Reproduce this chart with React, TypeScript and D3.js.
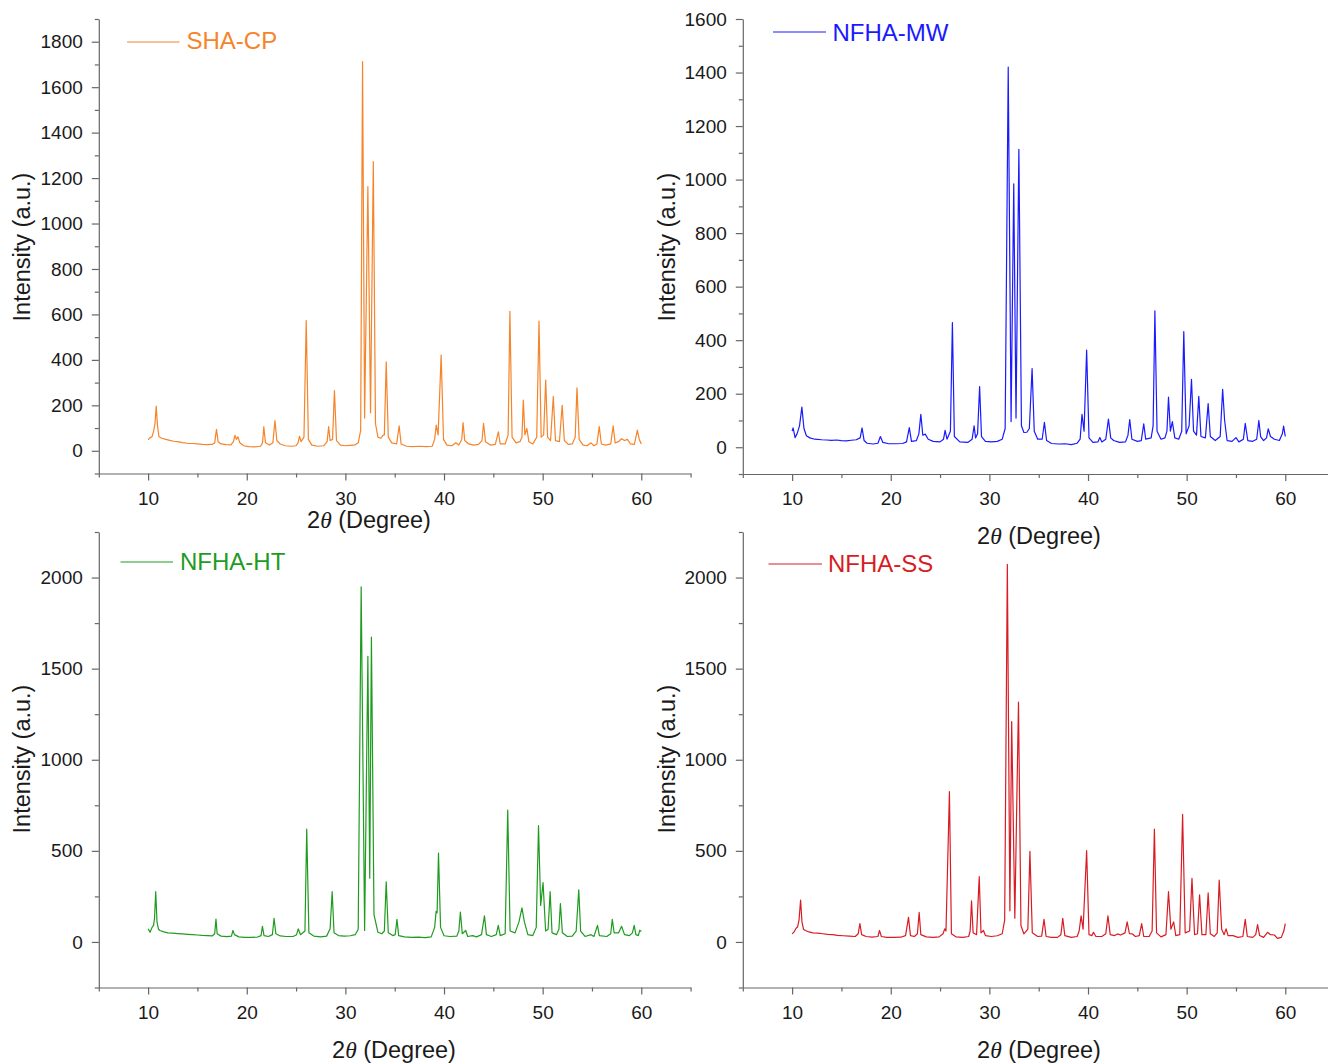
import React, { useEffect, useRef } from "react";
import * as d3 from "d3";

type Pt = [number, number];

// XRD traces: [2theta, intensity]
const shaCP: Pt[] = [
  [10.0, 48], [10.2, 58], [10.4, 62], [10.55, 85], [10.7, 120], [10.82, 197], [10.95, 110], [11.1, 62],
  [11.4, 55], [11.8, 50], [12.2, 46], [12.6, 42], [13.0, 40], [13.5, 36], [14.0, 33], [14.5, 32],
  [15.0, 30], [15.5, 28], [16.0, 27], [16.5, 28], [16.75, 35], [16.93, 94], [17.1, 40], [17.4, 30],
  [17.9, 27], [18.4, 26], [18.65, 40], [18.8, 68], [18.95, 50], [19.1, 62], [19.3, 35], [19.7, 22],
  [20.2, 18], [20.8, 17], [21.4, 20], [21.6, 35], [21.73, 106], [21.9, 35], [22.3, 25], [22.65, 35],
  [22.86, 133], [23.05, 45], [23.4, 30], [23.9, 22], [24.5, 20], [25.0, 22], [25.2, 35], [25.35, 64],
  [25.5, 40], [25.8, 60], [26.03, 573], [26.25, 50], [26.6, 25], [27.2, 20], [27.8, 22], [28.15, 40],
  [28.3, 106], [28.45, 45], [28.7, 50], [28.89, 265], [29.1, 45], [29.5, 25], [30.0, 22], [30.5, 24],
  [31.0, 26], [31.3, 35], [31.55, 90], [31.74, 1712], [31.95, 144], [32.28, 1162], [32.55, 167],
  [32.83, 1273], [33.05, 120], [33.3, 60], [33.6, 55], [33.8, 68], [33.95, 70], [34.14, 391],
  [34.35, 60], [34.7, 35], [35.2, 30], [35.45, 110], [35.65, 30], [36.2, 20], [36.8, 18], [37.5, 20],
  [38.2, 18], [38.8, 20], [39.05, 50], [39.21, 113], [39.4, 70], [39.71, 421], [39.95, 50], [40.3, 25],
  [40.8, 22], [41.2, 35], [41.5, 25], [41.8, 50], [41.93, 124], [42.1, 45], [42.5, 30], [43.0, 25],
  [43.5, 28], [43.85, 45], [44.01, 121], [44.2, 40], [44.7, 25], [45.2, 28], [45.51, 83], [45.7, 30],
  [46.2, 30], [46.5, 70], [46.68, 614], [46.9, 60], [47.3, 35], [47.7, 40], [47.9, 60], [48.04, 223],
  [48.2, 70], [48.4, 98], [48.6, 40], [49.0, 30], [49.4, 60], [49.63, 571], [49.85, 60], [50.1, 70],
  [50.31, 311], [50.5, 60], [50.8, 45], [51.08, 239], [51.3, 45], [51.7, 40], [51.98, 200], [52.2, 45],
  [52.6, 28], [53.0, 30], [53.3, 60], [53.48, 277], [53.7, 50], [54.1, 25], [54.5, 22], [54.9, 35],
  [55.2, 22], [55.5, 30], [55.74, 106], [55.95, 30], [56.4, 25], [56.9, 30], [57.15, 110], [57.35, 35],
  [57.7, 40], [58.0, 53], [58.3, 45], [58.6, 50], [58.9, 30], [59.3, 28], [59.6, 91], [59.8, 50],
  [60.0, 30],
];

const nfhaMW: Pt[] = [
  [10.0, 60], [10.1, 72], [10.3, 36], [10.5, 50], [10.75, 80], [10.99, 150], [11.2, 70], [11.45, 43],
  [11.8, 35], [12.3, 30], [13.0, 28], [13.5, 27], [14.0, 26], [14.5, 27], [15.0, 25], [15.5, 24],
  [16.0, 26], [16.5, 28], [16.9, 35], [17.09, 72], [17.3, 25], [17.6, 15], [18.2, 12], [18.7, 15],
  [18.95, 40], [19.2, 18], [19.8, 13], [20.5, 13], [21.2, 14], [21.6, 20], [21.88, 73], [22.1, 22],
  [22.6, 25], [22.85, 50], [23.05, 123], [23.25, 45], [23.5, 49], [23.8, 30], [24.3, 22], [25.0, 20],
  [25.35, 30], [25.51, 63], [25.7, 30], [26.05, 60], [26.25, 466], [26.45, 40], [27.0, 20], [27.8, 18],
  [28.25, 30], [28.45, 80], [28.6, 35], [28.8, 50], [29.01, 227], [29.2, 40], [29.6, 22], [30.2, 20],
  [30.8, 22], [31.3, 30], [31.6, 70], [31.91, 1420], [32.2, 96], [32.47, 984], [32.7, 109],
  [32.99, 1113], [33.25, 80], [33.5, 55], [33.8, 56], [34.05, 70], [34.33, 294], [34.55, 60],
  [34.9, 30], [35.35, 30], [35.58, 93], [35.8, 25], [36.3, 14], [37.0, 12], [37.7, 13], [38.3, 10],
  [38.9, 15], [39.2, 30], [39.39, 123], [39.6, 60], [39.86, 363], [40.1, 35], [40.5, 18], [41.0, 20],
  [41.2, 36], [41.4, 20], [41.8, 30], [42.07, 105], [42.3, 35], [42.6, 25], [43.2, 18], [43.8, 20],
  [44.05, 45], [44.23, 103], [44.45, 30], [45.0, 22], [45.4, 25], [45.65, 87], [45.85, 30], [46.4, 35],
  [46.6, 80], [46.78, 510], [47.0, 60], [47.4, 30], [47.8, 35], [48.0, 60], [48.16, 187], [48.35, 60],
  [48.55, 96], [48.8, 35], [49.2, 30], [49.5, 60], [49.71, 432], [49.95, 50], [50.25, 80], [50.49, 254],
  [50.7, 60], [51.0, 45], [51.23, 190], [51.45, 40], [51.9, 35], [52.18, 163], [52.4, 40], [52.9, 25],
  [53.4, 40], [53.65, 216], [53.85, 100], [54.1, 25], [54.6, 22], [55.0, 36], [55.3, 20], [55.75, 30],
  [55.94, 89], [56.2, 25], [56.7, 22], [57.1, 30], [57.32, 100], [57.5, 40], [57.8, 25], [58.1, 35],
  [58.27, 69], [58.5, 40], [58.9, 30], [59.4, 25], [59.7, 50], [59.83, 79], [60.0, 40],
];

const nfhaHT: Pt[] = [
  [10.0, 72], [10.2, 53], [10.4, 80], [10.55, 91], [10.65, 130], [10.77, 276], [10.9, 110], [11.05, 70],
  [11.2, 63], [11.6, 55], [12.0, 50], [12.5, 48], [13.0, 46], [13.5, 44], [14.0, 42], [14.5, 40],
  [15.0, 38], [15.5, 36], [16.0, 35], [16.5, 33], [16.75, 45], [16.88, 126], [17.0, 45], [17.4, 32],
  [18.0, 29], [18.45, 32], [18.6, 63], [18.75, 40], [19.2, 28], [19.8, 25], [20.5, 25], [21.1, 27],
  [21.45, 35], [21.59, 86], [21.75, 35], [22.2, 30], [22.6, 40], [22.77, 130], [22.95, 45], [23.4, 33],
  [24.0, 30], [24.7, 30], [25.05, 40], [25.22, 72], [25.45, 40], [25.9, 60], [26.08, 619], [26.3, 50],
  [26.8, 32], [27.5, 28], [28.1, 32], [28.45, 72], [28.66, 276], [28.85, 50], [29.3, 35], [29.9, 32],
  [30.5, 34], [31.0, 40], [31.3, 70], [31.6, 1949], [31.95, 63], [32.28, 1568], [32.47, 350],
  [32.64, 1673], [32.9, 150], [33.3, 53], [33.7, 45], [33.95, 60], [34.14, 330], [34.35, 50],
  [34.8, 35], [35.05, 40], [35.23, 124], [35.4, 35], [36.0, 28], [36.7, 25], [37.4, 26], [38.1, 24],
  [38.7, 28], [39.05, 80], [39.2, 168], [39.3, 160], [39.44, 488], [39.65, 80], [40.0, 34], [40.6, 30],
  [41.3, 32], [41.5, 60], [41.66, 164], [41.85, 45], [42.2, 63], [42.4, 30], [42.9, 35], [43.3, 28],
  [43.8, 40], [44.1, 143], [44.3, 40], [44.8, 30], [45.3, 40], [45.5, 91], [45.7, 35], [46.2, 45],
  [46.46, 724], [46.7, 60], [47.2, 50], [47.6, 110], [47.9, 187], [48.15, 110], [48.5, 40], [49.0, 35],
  [49.35, 80], [49.58, 638], [49.8, 200], [50.04, 326], [50.3, 60], [50.55, 70], [50.76, 276],
  [50.95, 50], [51.4, 40], [51.65, 70], [51.8, 211], [52.0, 50], [52.5, 30], [53.0, 32], [53.4, 60],
  [53.66, 286], [53.85, 60], [54.3, 30], [54.9, 40], [55.2, 30], [55.56, 91], [55.75, 35], [56.5, 30],
  [56.9, 45], [57.06, 124], [57.25, 50], [57.7, 50], [58.0, 86], [58.3, 40], [58.8, 35], [59.1, 50],
  [59.28, 91], [59.45, 40], [59.7, 35], [59.85, 65], [60.0, 57],
];

const nfhaSS: Pt[] = [
  [10.0, 44], [10.2, 55], [10.4, 75], [10.55, 82], [10.7, 120], [10.86, 230], [11.0, 110], [11.15, 70],
  [11.35, 63], [11.7, 55], [12.1, 50], [12.6, 48], [13.1, 45], [13.6, 42], [14.1, 40], [14.6, 36],
  [15.2, 34], [15.8, 32], [16.4, 30], [16.7, 45], [16.87, 101], [17.05, 40], [17.5, 30], [18.1, 27],
  [18.7, 30], [18.86, 63], [19.05, 30], [19.6, 25], [20.3, 25], [21.0, 26], [21.5, 35], [21.8, 135],
  [22.0, 35], [22.4, 30], [22.7, 45], [22.88, 162], [23.05, 40], [23.6, 28], [24.3, 25], [24.9, 28],
  [25.3, 45], [25.47, 72], [25.6, 60], [25.95, 825], [26.15, 45], [26.6, 28], [27.3, 25], [27.9, 30],
  [28.05, 60], [28.19, 225], [28.35, 50], [28.7, 40], [28.97, 358], [29.15, 50], [29.4, 63], [29.6, 35],
  [30.2, 30], [30.8, 34], [31.3, 45], [31.55, 120], [31.82, 2073], [32.08, 171], [32.26, 1210],
  [32.58, 130], [32.95, 1316], [33.2, 90], [33.5, 44], [33.9, 70], [34.11, 497], [34.35, 50], [34.9, 30],
  [35.3, 32], [35.54, 124], [35.75, 30], [36.3, 25], [36.9, 25], [37.25, 40], [37.44, 130], [37.65, 35],
  [38.3, 25], [38.9, 30], [39.1, 60], [39.3, 143], [39.5, 70], [39.86, 501], [40.1, 40], [40.4, 35],
  [40.55, 53], [40.8, 30], [41.4, 30], [41.8, 45], [42.02, 143], [42.25, 40], [42.7, 35], [43.0, 44],
  [43.3, 38], [43.75, 50], [43.97, 110], [44.2, 45], [44.5, 44], [44.8, 30], [45.2, 35], [45.44, 101],
  [45.65, 30], [46.2, 30], [46.5, 60], [46.73, 619], [46.95, 50], [47.4, 28], [47.9, 40], [48.16, 276],
  [48.4, 70], [48.68, 110], [48.9, 35], [49.3, 40], [49.59, 701], [49.85, 50], [50.3, 60], [50.54, 349],
  [50.8, 40], [51.1, 45], [51.31, 259], [51.55, 40], [51.95, 40], [52.18, 269], [52.4, 45], [52.8, 30],
  [53.1, 50], [53.3, 339], [53.55, 70], [53.8, 40], [54.0, 72], [54.2, 35], [54.7, 35], [55.2, 25],
  [55.7, 30], [55.94, 124], [56.15, 30], [56.7, 25], [57.0, 40], [57.19, 95], [57.4, 35], [57.8, 25],
  [58.2, 53], [58.5, 40], [58.9, 38], [59.2, 20], [59.6, 25], [59.85, 60], [60.0, 101],
];

const sampleNames = ["SHA-CP", "NFHA-MW", "NFHA-HT", "NFHA-SS"];
const sampleColors = ["#f5842a", "#1a1aff", "#1f9b1f", "#d81c24"];
const yDomains: [number, number][] = [[-100, 1900], [-100, 1600], [-250, 2250], [-250, 2250]];
const yMajorSteps = [200, 200, 500, 500];
const yMinorSteps = [100, 100, 250, 250];
const xDomain: [number, number] = [5, 65];
const xMajorTicks = [10, 20, 30, 40, 50, 60];
const xMinorTicks = [5, 15, 25, 35, 45, 55, 65];

const FONT = "'Liberation Sans', Arial, Helvetica, sans-serif";

// panel placement in the 1328x1063 picture
const layouts = [
  { x0: 98.8, x1: 690.6, top: 19, bottom: 473.5, xt: [369, 528], yt: [30, 247], lg: [127, 179.5, 42, 186.5, 49] },
  { x0: 742.8, x1: 1334.6, top: 19, bottom: 474, xt: [1039, 544], yt: [675, 247], lg: [773, 826, 32, 832.5, 41] },
  { x0: 98.8, x1: 690.6, top: 532, bottom: 987.5, xt: [394, 1058], yt: [30, 759], lg: [120.5, 173, 562, 180, 570] },
  { x0: 742.8, x1: 1334.6, top: 532, bottom: 987.5, xt: [1039, 1058], yt: [675, 759], lg: [768.5, 822, 564, 828, 572] },
];

const traces = [shaCP, nfhaMW, nfhaHT, nfhaSS];

function XrdPanel({ index }: { index: number }) {
  const ref = useRef<SVGGElement | null>(null);

  useEffect(() => {
    const g = d3.select(ref.current);
    g.selectAll("*").remove();
    const box = layouts[index];
    const yDomain = yDomains[index];
    const color = sampleColors[index];

    const x = d3.scaleLinear().domain(xDomain).range([box.x0, box.x1]);
    const y = d3.scaleLinear().domain(yDomain).range([box.bottom, box.top]);

    const axisColor = "#666";
    const styleAxis = (sel: any) => {
      sel.selectAll("path, line").attr("stroke", axisColor).attr("stroke-width", 1.2);
      sel.selectAll("text").attr("font-family", FONT).attr("font-size", 19).attr("fill", "#1a1a1a");
    };

    // y axis
    const majorY = d3.range(0, yDomain[1] + 1, yMajorSteps[index]);
    const minorY = d3
      .range(yDomain[0], yDomain[1] + 1, yMinorSteps[index])
      .filter((v) => v % yMajorSteps[index] !== 0);

    g.append("g")
      .attr("transform", `translate(${box.x0},0)`)
      .call(d3.axisLeft(y).tickValues(minorY).tickSize(4).tickFormat(() => ""))
      .call((s: any) => s.select(".domain").remove())
      .call(styleAxis);

    g.append("g")
      .attr("transform", `translate(${box.x0},0)`)
      .call(d3.axisLeft(y).tickValues(majorY).tickSize(7).tickSizeOuter(0).tickPadding(9).tickFormat(d3.format("d")))
      .call(styleAxis);

    // x axis
    g.append("g")
      .attr("transform", `translate(0,${box.bottom})`)
      .call(d3.axisBottom(x).tickValues(xMinorTicks).tickSize(4).tickFormat(() => ""))
      .call((s: any) => s.select(".domain").remove())
      .call(styleAxis);

    g.append("g")
      .attr("transform", `translate(0,${box.bottom})`)
      .call(d3.axisBottom(x).tickValues(xMajorTicks).tickSize(7).tickSizeOuter(0).tickPadding(11))
      .call(styleAxis);

    // trace
    const line = d3
      .line<Pt>()
      .x((d) => x(d[0]))
      .y((d) => y(d[1]));

    g.append("path")
      .datum(traces[index])
      .attr("d", line)
      .attr("fill", "none")
      .attr("stroke", color)
      .attr("stroke-width", 1.2)
      .attr("stroke-linejoin", "round");

    // legend
    const [lx0, lx1, ly, tx, ty] = box.lg;
    g.append("line")
      .attr("x1", lx0)
      .attr("x2", lx1)
      .attr("y1", ly)
      .attr("y2", ly)
      .attr("stroke", color)
      .attr("stroke-width", 1.2);
    g.append("text")
      .attr("x", tx)
      .attr("y", ty)
      .attr("font-family", FONT)
      .attr("font-size", 24)
      .attr("fill", color)
      .text(sampleNames[index]);

    // axis titles
    const xt = g
      .append("text")
      .attr("x", box.xt[0])
      .attr("y", box.xt[1])
      .attr("text-anchor", "middle")
      .attr("font-family", FONT)
      .attr("font-size", 23.5)
      .attr("fill", "#1a1a1a");
    xt.append("tspan").text("2");
    xt.append("tspan").attr("font-style", "italic").attr("font-family", "'Liberation Serif', 'Times New Roman', serif").text("θ");
    xt.append("tspan").text(" (Degree)");

    g.append("text")
      .attr("transform", `translate(${box.yt[0]},${box.yt[1]}) rotate(-90)`)
      .attr("text-anchor", "middle")
      .attr("font-family", FONT)
      .attr("font-size", 23.5)
      .attr("fill", "#1a1a1a")
      .text("Intensity (a.u.)");
  }, [index]);

  return <g ref={ref} />;
}

export default function App() {
  return (
    <svg
      width={1328}
      height={1063}
      style={{ position: "absolute", left: 0, top: 0, background: "#fff" }}
    >
      <rect x={0} y={0} width={1328} height={1063} fill="#fff" />
      {sampleNames.map((name, i) => (
        <XrdPanel key={name} index={i} />
      ))}
    </svg>
  );
}
